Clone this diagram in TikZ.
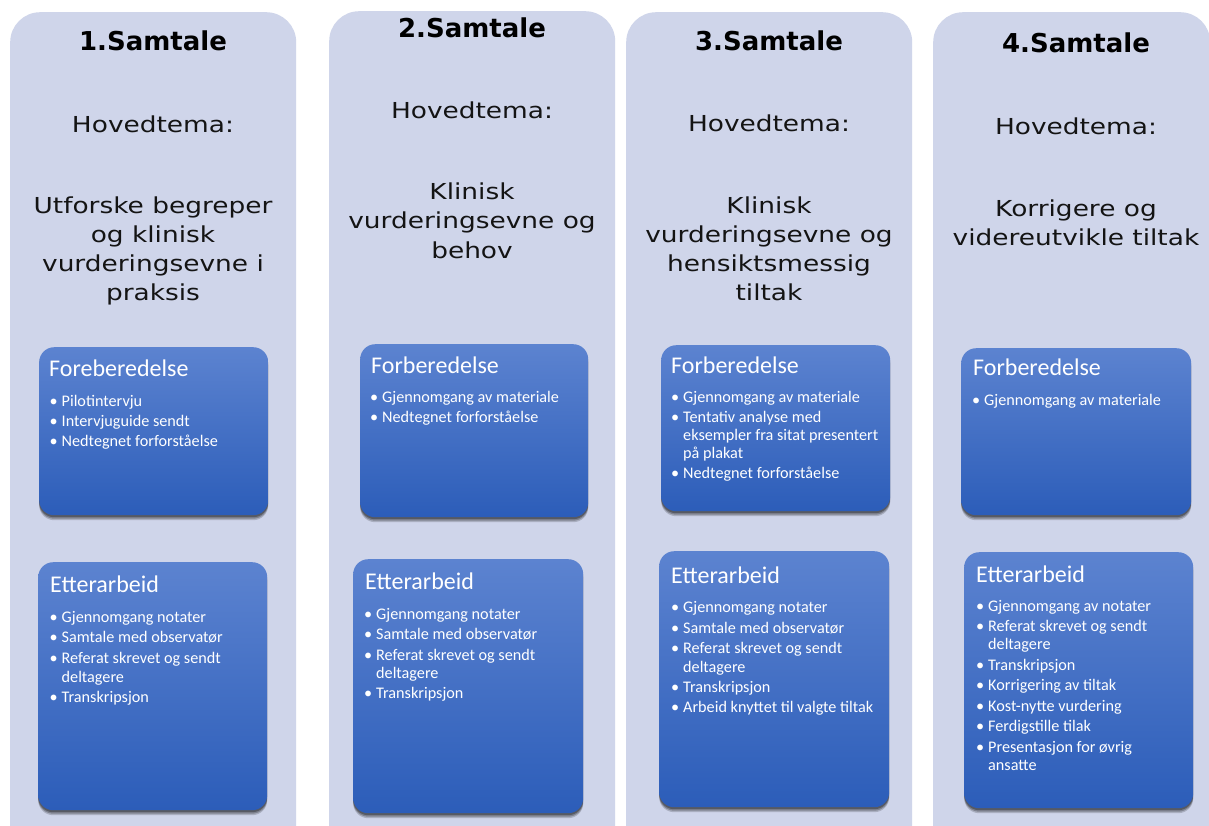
\documentclass[tikz,border=0pt]{standalone}
\usepackage{fontspec}
\usetikzlibrary{shadows,calc}
\newfontfamily\ttlfont{DejaVu Sans}
\newfontfamily\themefont[FakeStretch=1.2]{DejaVu Sans}
\newfontfamily\boxfont{Carlito}
\definecolor{colbg}{RGB}{207,213,234}
\definecolor{boxtop}{RGB}{92,131,208}
\definecolor{boxbot}{RGB}{44,93,185}
\definecolor{ink}{RGB}{20,20,20}
\newcommand{\bl}{\llap{\textbullet\hspace{4pt}}}
\tikzset{
  col/.style={fill=colbg, rounded corners=30pt, minimum width=286pt, minimum height=900pt, anchor=north west, inner sep=0pt, draw=none},
  bbox/.style={rounded corners=15pt, top color=boxtop, bottom color=boxbot, anchor=north west, inner sep=0pt,
     drop shadow={shadow xshift=0pt, shadow yshift=-5pt, opacity=0.18, fill=black},
     drop shadow={shadow xshift=0pt, shadow yshift=-3.5pt, opacity=0.25, fill=black},
     drop shadow={shadow xshift=0pt, shadow yshift=-2pt, opacity=0.3, fill=black}},
  ttl/.style={font=\ttlfont\bfseries\fontsize{26}{30}\selectfont, anchor=base, text=black, inner sep=0pt},
  hv/.style={font=\themefont\fontsize{22}{29}\selectfont, anchor=base, text=ink, inner sep=0pt},
  bh/.style={font=\boxfont\fontsize{24}{28}\selectfont, text=white, anchor=base west, inner sep=0pt},
  bt/.style={font=\boxfont\fontsize{16.2}{19}\selectfont, text=white, anchor=base west, inner sep=0pt}
}
\begin{document}
\begin{tikzpicture}[x=1pt,y=-1pt]
\clip (0,0) rectangle (1209,825);
\useasboundingbox (0,0) rectangle (1209,825);
\fill[white] (0,0) rectangle (1209,825);

% ---------- Column 1
\node[col] (c1) at (10,12) {};
\node[ttl] (t1) at (153,50) {1.Samtale};
\node[hv] (h1) at (153,132) {Hovedtema:};
\node[hv] (m1a) at (153,213) {Utforske begreper};
\node[hv] (m1b) at (153,242) {og klinisk};
\node[hv] (m1c) at (153,271) {vurderingsevne i};
\node[hv] (m1d) at (153,300) {praksis};
\node[bbox, minimum width=229pt, minimum height=168pt] (f1) at (39,347) {};
\node[bh] (f1h) at (49,376) {Foreberedelse};
\node[bt] (f1a) at (61.5,406.5) {\bl Pilotintervju};
\node[bt] (f1b) at (61.5,426.5) {\bl Intervjuguide sendt};
\node[bt] (f1c) at (61.5,446.5) {\bl Nedtegnet forforståelse};
\node[bbox, minimum width=229pt, minimum height=248pt] (e1) at (38,562) {};
\node[bh] (e1h) at (50,592) {Etterarbeid};
\node[bt] (e1a) at (61.5,622.5) {\bl Gjennomgang notater};
\node[bt] (e1b) at (61.5,642.5) {\bl Samtale med observatør};
\node[bt] (e1c) at (61.5,663.5) {\bl Referat skrevet og sendt};
\node[bt] (e1d) at (61.5,682) {deltagere};
\node[bt] (e1e) at (61.5,702.5) {\bl Transkripsjon};

% ---------- Column 2
\node[col] (c2) at (329,11) {};
\node[ttl] (t2) at (472,37.5) {2.Samtale};
\node[hv] (h2) at (472,118) {Hovedtema:};
\node[hv] (m2a) at (472,199) {Klinisk};
\node[hv] (m2b) at (472,228.5) {vurderingsevne og};
\node[hv] (m2c) at (472,258) {behov};
\node[bbox, minimum width=228pt, minimum height=173pt] (f2) at (360,344) {};
\node[bh] (f2h) at (371,373) {Forberedelse};
\node[bt] (f2a) at (382,402.5) {\bl Gjennomgang av materiale};
\node[bt] (f2b) at (382,422.5) {\bl Nedtegnet forforståelse};
\node[bbox, minimum width=230pt, minimum height=254pt] (e2) at (353,559) {};
\node[bh] (e2h) at (365,589) {Etterarbeid};
\node[bt] (e2a) at (376,619.5) {\bl Gjennomgang notater};
\node[bt] (e2b) at (376,639.5) {\bl Samtale med observatør};
\node[bt] (e2c) at (376,660.5) {\bl Referat skrevet og sendt};
\node[bt] (e2d) at (376,678.5) {deltagere};
\node[bt] (e2e) at (376,698.5) {\bl Transkripsjon};

% ---------- Column 3
\node[col] (c3) at (626,12) {};
\node[ttl] (t3) at (769,50) {3.Samtale};
\node[hv] (h3) at (769,131) {Hovedtema:};
\node[hv] (m3a) at (769,213) {Klinisk};
\node[hv] (m3b) at (769,242) {vurderingsevne og};
\node[hv] (m3c) at (769,271) {hensiktsmessig};
\node[hv] (m3d) at (769,300) {tiltak};
\node[bbox, minimum width=229pt, minimum height=166pt] (f3) at (661,345) {};
\node[bh] (f3h) at (671,373) {Forberedelse};
\node[bt] (f3a) at (683,402.5) {\bl Gjennomgang av materiale};
\node[bt] (f3b) at (683,422) {\bl Tentativ analyse med};
\node[bt] (f3c) at (683,440.5) {eksempler fra sitat presentert};
\node[bt] (f3d) at (683,458.5) {på plakat};
\node[bt] (f3e) at (683,478.5) {\bl Nedtegnet forforståelse};
\node[bbox, minimum width=230pt, minimum height=256pt] (e3) at (659,551) {};
\node[bh] (e3h) at (671,583) {Etterarbeid};
\node[bt] (e3a) at (683,612.5) {\bl Gjennomgang notater};
\node[bt] (e3b) at (683,633) {\bl Samtale med observatør};
\node[bt] (e3c) at (683,653) {\bl Referat skrevet og sendt};
\node[bt] (e3d) at (683,672) {deltagere};
\node[bt] (e3e) at (683,692) {\bl Transkripsjon};
\node[bt] (e3f) at (683,712) {\bl Arbeid knyttet til valgte tiltak};

% ---------- Column 4
\node[col, minimum width=277pt] (c4) at (933,12) {};
\node[ttl] (t4) at (1076,52.5) {4.Samtale};
\node[hv] (h4) at (1076,134) {Hovedtema:};
\node[hv] (m4a) at (1076,216) {Korrigere og};
\node[hv] (m4b) at (1076,245) {videreutvikle tiltak};
\node[bbox, minimum width=230pt, minimum height=167pt] (f4) at (961,348) {};
\node[bh] (f4h) at (973,375) {Forberedelse};
\node[bt] (f4a) at (984,405.5) {\bl Gjennomgang av materiale};
\node[bbox, minimum width=229pt, minimum height=256pt] (e4) at (964,552) {};
\node[bh] (e4h) at (976,582) {Etterarbeid};
\node[bt] (e4a) at (988,611.5) {\bl Gjennomgang av notater};
\node[bt] (e4b) at (988,631.5) {\bl Referat skrevet og sendt};
\node[bt] (e4c) at (988,649.5) {deltagere};
\node[bt] (e4d) at (988,670) {\bl Transkripsjon};
\node[bt] (e4e) at (988,690.5) {\bl Korrigering av tiltak};
\node[bt] (e4f) at (988,711) {\bl Kost-nytte vurdering};
\node[bt] (e4g) at (988,731) {\bl Ferdigstille tilak};
\node[bt] (e4h) at (988,752) {\bl Presentasjon for øvrig};
\node[bt] (e4i) at (988,770) {ansatte};
\end{tikzpicture}
\end{document}
